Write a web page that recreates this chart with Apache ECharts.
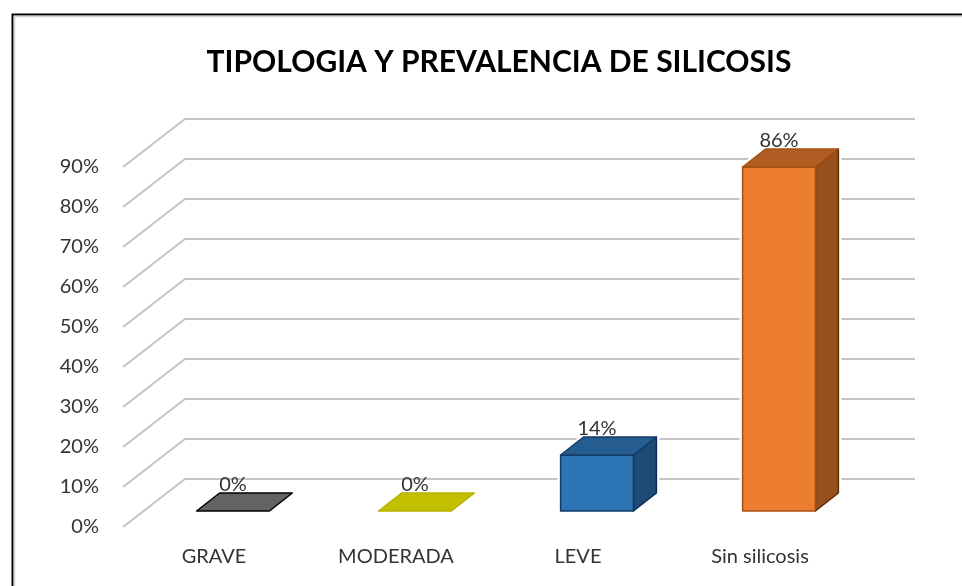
<!DOCTYPE html>
<html>
<head>
<meta charset="utf-8">
<style>html,body{margin:0;padding:0;background:#fff}#c{width:962px;height:586px}</style>
<script src="https://cdn.jsdelivr.net/npm/echarts@6/dist/echarts.min.js"></script>
</head>
<body>
<div id="c"></div>
<script>
const titleText = 'TIPOLOGIA Y PREVALENCIA DE SILICOSIS';
const categories = ['GRAVE', 'MODERADA', 'LEVE', 'Sin silicosis'];
const values = [0, 0, 14, 86];
const yTicks = [0, 10, 20, 30, 40, 50, 60, 70, 80, 90];
const frontColors = ['#636363', '#c4c000', '#2e75b6', '#ed7d31'];
const topColors = ['#636363', '#c4c000', '#255d90', '#b05c22'];
const sideColors = ['#4a4a4a', '#9a9700', '#1e4b75', '#964f1d'];
const edgeColors = ['#000000', '#b5b200', '#123a66', '#a5500f'];

const FONT = 'Lato, Carlito, "Open Sans", sans-serif';
const WALL_DX = 62, WALL_DY = 48;   // depth of the floor
const BAR_DX = 19, BAR_DY = 16;     // bar position within the depth
const DEPTH_X = 23, DEPTH_Y = 18;   // depth of a bar

function poly(points, fill, stroke, width) {
  return { type: 'polygon', shape: { points }, style: { fill, stroke, lineWidth: width, lineJoin: 'round' } };
}

function renderWall(params, api) {
  const cs = params.coordSys;
  const y = api.coord([0, api.value(1)])[1];
  return {
    type: 'polyline',
    shape: { points: [[cs.x, y], [cs.x + WALL_DX, y - WALL_DY], [cs.x + cs.width + WALL_DX + 2, y - WALL_DY]] },
    style: { fill: null, stroke: '#c4c4c4', lineWidth: 2 }
  };
}

function renderBar(params, api) {
  const i = api.value(0), v = api.value(1);
  const top = api.coord([i, v]);
  const base = api.coord([i, 0]);
  const w = api.size([1, 0])[0] * 0.4;
  const l = top[0] + BAR_DX - w / 2, r = l + w;
  const t = top[1] - BAR_DY, b = base[1] - BAR_DY;
  const children = [];
  const e = edgeColors[i];
  if (v > 0) {
    children.push(poly([[l, b], [r, b], [r + DEPTH_X, b - DEPTH_Y], [r + DEPTH_X, t - DEPTH_Y], [l + DEPTH_X, t - DEPTH_Y], [l, t]], '#fff', '#fff', 6));
    children.push(poly([[r, t], [r + DEPTH_X, t - DEPTH_Y], [r + DEPTH_X, b - DEPTH_Y], [r, b]], sideColors[i], '#5e2c08', 1.5));
    if (i === 2) children[children.length - 1].style.stroke = '#0c2a52';
    children.push(poly([[l, t], [r, t], [r, b], [l, b]], frontColors[i], e, 1.5));
  }
  children.push(poly([[l, t], [r, t], [r + DEPTH_X, t - DEPTH_Y], [l + DEPTH_X, t - DEPTH_Y]], topColors[i], e, 1.5));
  children.push({
    type: 'text',
    style: { text: v + '%', x: l + w / 2, y: t - 26, fill: '#333', font: '20px ' + FONT, align: 'center', verticalAlign: 'middle' }
  });
  return { type: 'group', children };
}

const chart = echarts.init(document.getElementById('c'), null, { renderer: 'canvas' });
chart.setOption({
  animation: false,
  backgroundColor: '#fff',
  title: {
    text: titleText, left: 494, top: 42, textAlign: 'center',
    textStyle: { fontFamily: FONT, fontSize: 30, fontWeight: 'bold', color: '#000' }
  },
  grid: { left: 123, width: 728, top: 167, height: 360 },
  xAxis: {
    type: 'category', data: categories,
    axisLine: { show: false }, axisTick: { show: false }, splitLine: { show: false },
    axisLabel: { margin: 20, fontFamily: FONT, fontSize: 20, color: '#333' }
  },
  yAxis: {
    type: 'value', min: 0, max: 90, interval: 10,
    axisLine: { show: false }, axisTick: { show: false }, splitLine: { show: false },
    axisLabel: { margin: 24, fontFamily: FONT, fontSize: 20, color: '#333', formatter: '{value}%' }
  },
  series: [
    { type: 'custom', name: 'grid', silent: true, z: 1, renderItem: renderWall, data: yTicks.map(t => [0, t]), encode: { y: 1 } },
    { type: 'custom', name: 'Prevalencia', z: 2, renderItem: renderBar, data: values.map((v, i) => [i, v]), encode: { x: 0, y: 1 } }
  ],
  graphic: [
    { type: 'polyline', silent: true, z: 5, shape: { points: [[12.5, 600], [12.5, 14.5], [970, 14.5]] }, style: { fill: null, stroke: '#000', lineWidth: 2 } },
    { type: 'polyline', silent: true, z: 5, shape: { points: [[14.5, 600], [14.5, 16.5], [970, 16.5]] }, style: { fill: null, stroke: '#d4d4d4', lineWidth: 1.5 } }
  ]
});
</script>
</body>
</html>
